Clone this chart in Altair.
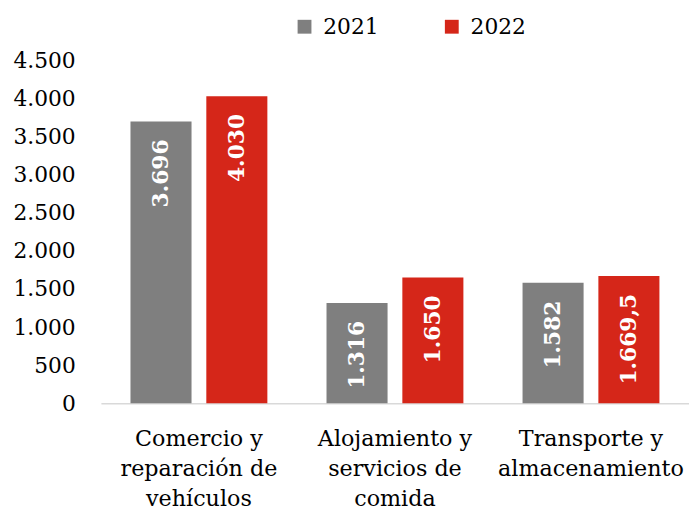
import altair as alt
import pandas as pd

categories = ["Comercio y\nreparación de\nvehículos",
              "Alojamiento y\nservicios de\ncomida",
              "Transporte y\nalmacenamiento"]
years = ["2021", "2022"]
values_2021 = [3696, 1316, 1582]
values_2022 = [4030, 1650, 1669.5]
labels_2021 = ["3.696", "1.316", "1.582"]
labels_2022 = ["4.030", "1.650", "1.669,5"]
y_ticks = [0, 500, 1000, 1500, 2000, 2500, 3000, 3500, 4000, 4500]
colors = ["#7f7f7f", "#d52619"]

rows = []
for c, v, l in zip(categories, values_2021, labels_2021):
    rows.append({"cat": c, "year": "2021", "value": v, "label": l})
for c, v, l in zip(categories, values_2022, labels_2022):
    rows.append({"cat": c, "year": "2022", "value": v, "label": l})
df = pd.DataFrame(rows)

FONT = "DejaVu Serif"

x = alt.X("cat:N", sort=categories, title=None,
          scale=alt.Scale(paddingInner=0, paddingOuter=0),
          axis=alt.Axis(labelAngle=0, ticks=False, domainColor="#d9d9d9", domainWidth=1.5,
                        labelFontSize=22.5, labelFont=FONT, labelColor="#000000",
                        labelLineHeight=30, labelPadding=25, labelLimit=300,
                        labelExpr="split(datum.label, '\\n')"))
xoff = alt.XOffset("year:N", sort=years, scale=alt.Scale(paddingInner=0.195, paddingOuter=0.39))
y = alt.Y("value:Q", title=None,
          scale=alt.Scale(domain=[0, 4500], nice=False),
          axis=alt.Axis(values=y_ticks, grid=False, domain=False, ticks=False,
                        labelOverlap=False, labelFlush=False,
                        labelFontSize=22, labelFont=FONT, labelColor="#000000", labelPadding=26,
                        labelExpr="replace(format(datum.value, ',d'), ',', '.')"))

base = alt.Chart(df)

bars = base.mark_bar().encode(
    x=x, xOffset=xoff, y=y,
    color=alt.Color("year:N", sort=years, scale=alt.Scale(domain=years, range=colors),
                    legend=alt.Legend(title=None, orient="none", legendX=195, legendY=-45,
                                      direction="horizontal", symbolType="square", symbolSize=196,
                                      symbolStrokeWidth=0, labelFontSize=22, labelFont=FONT,
                                      labelColor="#000000", labelOffset=8, columnPadding=63)),
)

text = base.mark_text(angle=270, align="right", baseline="middle", dx=-18,
                      color="white", font=FONT, fontWeight="bold", fontSize=22).encode(
    x=x, xOffset=xoff, y=y, text="label:N")

chart = (bars + text).properties(
    width=595, height=347,
    autosize=alt.AutoSizeParams(type="none"),
    padding={"left": 94, "top": 50, "right": 0, "bottom": 106},
).configure_view(stroke=None)

chart.save("out.html", embed_options={"renderer": "svg", "actions": False})
